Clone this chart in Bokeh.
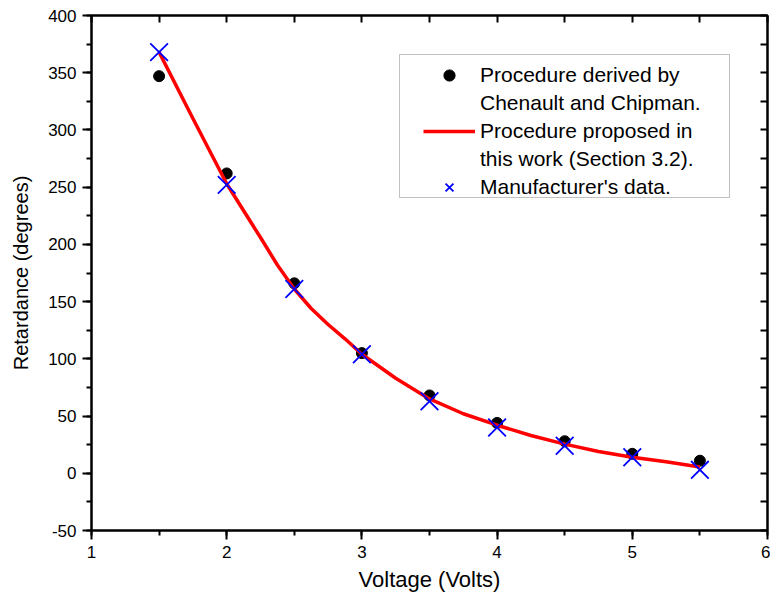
from bokeh.plotting import figure
from bokeh.models import (Range1d, LinearAxis, FixedTicker, Legend, LegendItem,
                          ColumnDataSource, SingleIntervalTicker, BoxAnnotation)
from bokeh.embed import file_html
from bokeh.resources import INLINE

# ---- data ----
voltage = [1.5, 2.0, 2.5, 3.0, 3.5, 4.0, 4.5, 5.0, 5.5]
chenault = [347, 262, 166, 105, 68, 44, 28, 17, 11]
manufacturer = [368, 252, 161, 104, 63, 40, 24, 14, 3]

curve_v = [1.5, 1.75, 2.0, 2.25, 2.375, 2.5, 2.625, 2.75, 2.875, 3.0, 3.25, 3.5,
           3.75, 4.0, 4.25, 4.5, 4.75, 5.0, 5.25, 5.5]
curve_r = [368, 310, 253, 206, 182, 161, 144, 130, 117.5, 104, 83, 65,
           52, 42, 33, 25.5, 19, 14, 10, 5.5]

FONT = "Liberation Sans"

p = figure(width=770, height=599, output_backend="svg", toolbar_location=None,
           x_range=Range1d(1, 6), y_range=Range1d(-50, 400),
           min_border_left=91, min_border_right=3, min_border_top=15,
           min_border_bottom=69)
p.background_fill_color = "white"
p.border_fill_color = "white"
p.grid.visible = False
p.outline_line_color = "black"
p.outline_line_width = 2

# bottom axis
xa = p.xaxis[0]
xa.ticker = SingleIntervalTicker(interval=1, num_minor_ticks=2)
xa.axis_label = "Voltage (Volts)"
# left axis
ya = p.yaxis[0]
ya.ticker = SingleIntervalTicker(interval=50, num_minor_ticks=2)
ya.axis_label = "Retardance (degrees)"
ya.major_label_overrides = {-50: "-50"}

for ax in (xa, ya):
    ax.axis_line_width = 2
    ax.major_tick_line_width = 2
    ax.minor_tick_line_width = 2
    ax.major_tick_out = 9
    ax.major_tick_in = 0
    ax.minor_tick_out = 5
    ax.minor_tick_in = 0
    ax.major_label_text_font = FONT
    ax.major_label_text_font_size = "17px"
    ax.major_label_text_color = "black"
    ax.major_label_standoff = 6
    ax.axis_label_text_font = FONT
    ax.axis_label_text_font_style = "normal"
    ax.axis_label_text_color = "black"
xa.axis_label_text_font_size = "22px"
ya.axis_label_text_font_size = "20px"
xa.axis_label_standoff = 6
ya.axis_label_standoff = 13

# top and right axes: inward ticks only
top = LinearAxis(ticker=FixedTicker(ticks=[], minor_ticks=[1, 1.5, 2, 2.5, 3, 3.5, 4, 4.5, 5, 5.5, 6]))
right = LinearAxis(ticker=FixedTicker(ticks=[], minor_ticks=list(range(-50, 401, 25))))
for ax in (top, right):
    ax.axis_line_width = 2
    ax.minor_tick_line_width = 2
    ax.minor_tick_in = 7
    ax.minor_tick_out = 0
    ax.major_tick_in = 0
    ax.major_tick_out = 0
    ax.major_label_standoff = 0
p.add_layout(top, "above")
p.add_layout(right, "right")

src_c = ColumnDataSource(dict(x=voltage, y=chenault))
src_m = ColumnDataSource(dict(x=voltage, y=manufacturer))
src_curve = ColumnDataSource(dict(x=curve_v, y=curve_r))

r_dot = p.scatter("x", "y", source=src_c, marker="circle", size=11,
                  fill_color="black", line_color="black")
r_line = p.line("x", "y", source=src_curve, line_color="#ff0000", line_width=3.5,
                line_join="round")
r_x = p.scatter("x", "y", source=src_m, marker="x", size=25,
                line_color="#0000ff", line_width=1.8)
blank = p.scatter(x=[], y=[], marker="circle", size=1, fill_alpha=0, line_alpha=0)

# legend frame
box = BoxAnnotation(left=399, right=729, top=54, bottom=197,
                    left_units="canvas", right_units="canvas",
                    top_units="canvas", bottom_units="canvas",
                    fill_color="white", fill_alpha=1,
                    line_color="#333333", line_width=1, level="overlay")
p.add_layout(box)

legend = Legend(items=[
    LegendItem(label="Procedure derived by", renderers=[r_dot]),
    LegendItem(label="Chenault and Chipman.", renderers=[blank]),
    LegendItem(label="Procedure proposed in", renderers=[r_line]),
    LegendItem(label="this work (Section 3.2).", renderers=[blank]),
    LegendItem(label="Manufacturer's data.", renderers=[r_x]),
], location=(332, 329))
legend.label_text_font = FONT
legend.label_text_font_size = "21px"
legend.label_text_color = "black"
legend.label_standoff = 5
legend.label_height = 28
legend.glyph_height = 28
legend.glyph_width = 52
legend.spacing = 0
legend.padding = 0
legend.margin = 0
legend.border_line_color = None
legend.background_fill_alpha = 0
legend.level = "overlay"
p.add_layout(legend, "center")

open("out.html", "w").write(file_html(p, INLINE))
